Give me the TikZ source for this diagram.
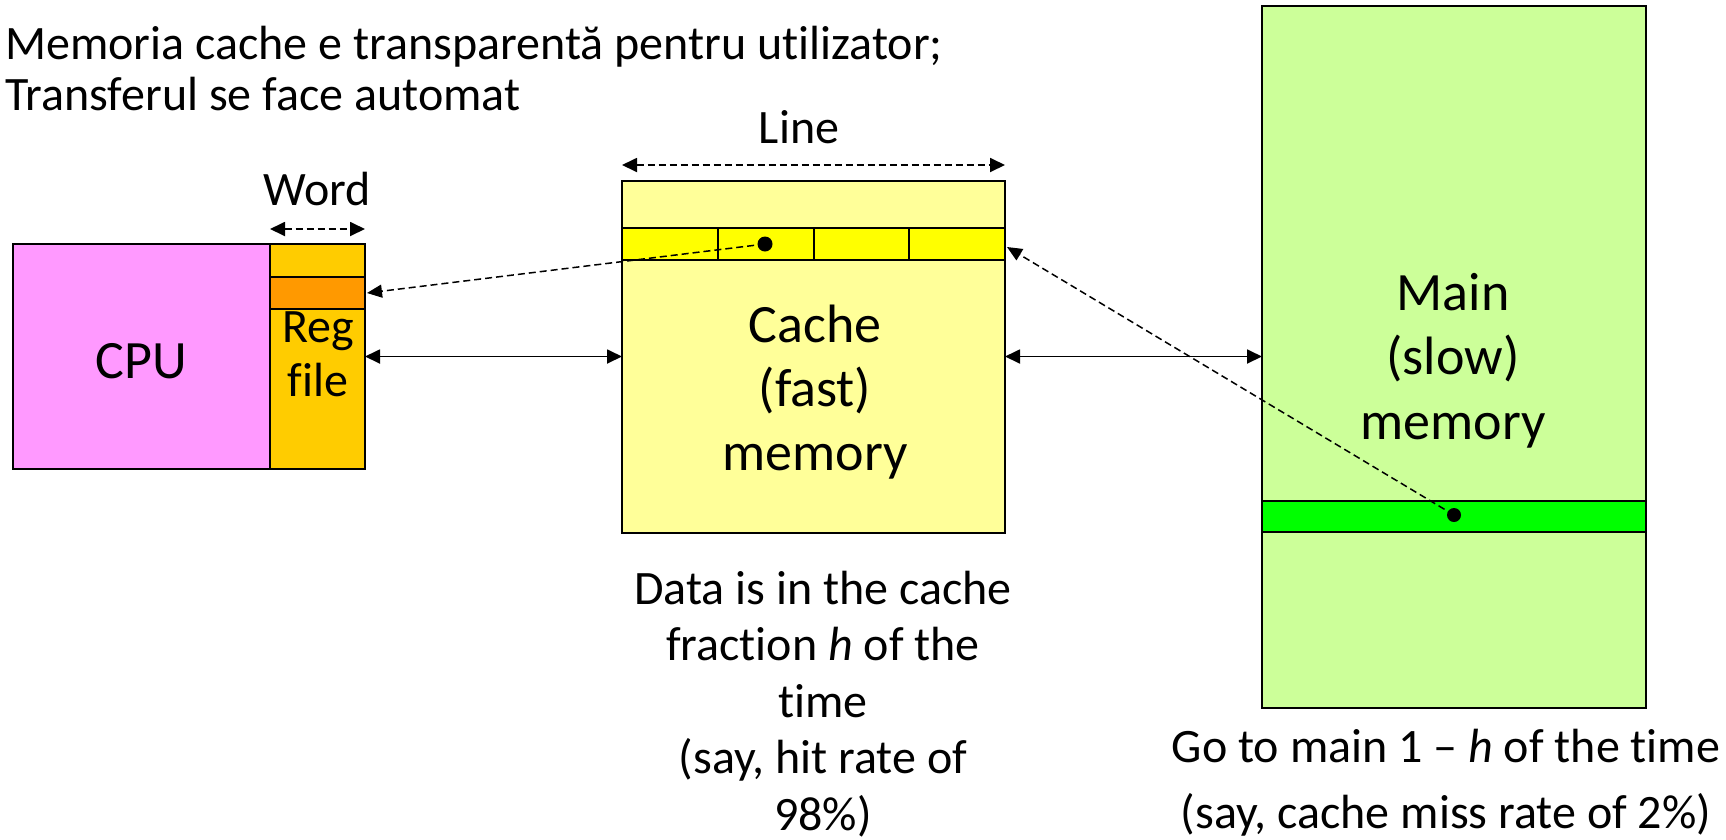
\documentclass[tikz,border=0pt]{standalone}
\usepackage{fontspec}
\setmainfont{Carlito}[Ligatures=NoCommon]
\usetikzlibrary{arrows.meta,calc}
\definecolor{cpupink}{HTML}{FF99FF}
\definecolor{regyel}{HTML}{FFCC00}
\definecolor{regorg}{HTML}{FF9900}
\definecolor{cachey}{HTML}{FFFF99}
\definecolor{cacheline}{HTML}{FFFF00}
\definecolor{mainlg}{HTML}{CCFF99}
\definecolor{mainband}{HTML}{00FF00}
\newcommand\sx{\rule[-0.24em]{0pt}{1.04em}}
\begin{document}
\begin{tikzpicture}[x=1pt,y=-1pt,
  blk/.style={draw=black,line width=2pt,rectangle,inner sep=0pt,outer sep=0pt,anchor=north west},
  lbl/.style={inner sep=0pt,font=\fontsize{48}{56}\selectfont},
  biglbl/.style={inner sep=0pt,align=center,font=\fontsize{54}{64}\selectfont},
  solidarr/.style={line width=1.8pt,{Triangle[length=15pt,width=14pt]}-{Triangle[length=15pt,width=14pt]}},
  dimarr/.style={line width=1.8pt,dash pattern=on 7pt off 4pt,{Triangle[length=15pt,width=14pt]}-{Triangle[length=15pt,width=14pt]}},
  fetcharr/.style={line width=1.5pt,dash pattern=on 7pt off 4pt,-{Triangle[length=15pt,width=13pt]}},
  dotmark/.style={circle,fill=black,inner sep=0pt,minimum size=15pt}
]
\useasboundingbox (0,0) rectangle (1726,839);
% CPU and register file
\node[blk,fill=cpupink,minimum width=257pt,minimum height=225pt] (cpu) at (13,244) {};
\node[blk,fill=regyel,minimum width=95pt,minimum height=33pt] (regtop) at (270,244) {};
\node[blk,fill=regorg,minimum width=95pt,minimum height=32pt] (regsel) at (270,277) {};
\node[blk,fill=regyel,minimum width=95pt,minimum height=160pt] (regbody) at (270,309) {};
\node[biglbl] (cputxt) at (141,361) {CPU};
\node[lbl,align=center,font=\fontsize{48}{54}\selectfont] (regtxt) at (318,356) {\sx Reg\\\sx file};
% Cache
\node[blk,fill=cachey,minimum width=383pt,minimum height=352.5pt] (cache) at (622,180.5) {};
\node[blk,fill=cacheline,minimum width=95.75pt,minimum height=32pt] (cl1) at (622,228) {};
\node[blk,fill=cacheline,minimum width=95.75pt,minimum height=32pt] (cl2) at (717.75,228) {};
\node[blk,fill=cacheline,minimum width=95.75pt,minimum height=32pt] (cl3) at (813.5,228) {};
\node[blk,fill=cacheline,minimum width=95.75pt,minimum height=32pt] (cl4) at (909.25,228) {};
\node[biglbl] (cachetxt) at (815,391) {\sx Cache\\\sx (fast)\\\sx memory};
% Main memory
\node[blk,fill=mainlg,minimum width=384pt,minimum height=702pt] (main) at (1262,5.5) {};
\node[blk,fill=mainband,minimum width=384pt,minimum height=31pt] (band) at (1262,501) {};
\node[biglbl,font=\fontsize{54}{64.5}\selectfont] (maintxt) at (1453,359.5) {\sx Main\\\sx (slow)\\\sx memory};
% dots
\node[dotmark] (cdot) at (765,244) {};
\node[dotmark,minimum size=14pt] (mdot) at (1454,515) {};
% labels
\node[lbl,anchor=west,align=left,font=\fontsize{48}{51}\selectfont] (title) at (5,71.5) {\sx Memoria cache e transparentă pentru utilizator;\\\sx Transferul se face automat};
\node[lbl] (wordtxt) at (317,189) {Word};
\node[lbl] (linetxt) at (799,127) {Line};
\node[lbl,align=center,font=\fontsize{48}{56.5}\selectfont] (hittxt) at (823,704) {\sx Data is in the cache\\\sx fraction \textit{h} of the\\\sx time\\\sx (say, hit rate of\\\sx 98\%)};
\node[lbl,align=center,font=\fontsize{48}{66.5}\selectfont] (misstxt) at (1446,782) {\sx Go to main 1 – \textit{h} of the time\\\sx (say, cache miss rate of 2\%)};
% connectors
\draw[dimarr] ([yshift=15pt]regtop.north west) -- ([yshift=15pt]regtop.north east);
\draw[dimarr] ([yshift=15.5pt]cache.north west) -- ([yshift=15.5pt]cache.north east);
\draw[solidarr] (cpu.center -| regbody.east) -- (cpu.center -| cache.west);
\draw[solidarr] (cpu.center -| cache.east) -- (cpu.center -| main.west);
\draw[fetcharr] (cdot.center) -- ([xshift=2pt]regsel.east);
\draw[fetcharr] (mdot.center) -- ([xshift=2pt,yshift=-3pt]cl4.east);
\end{tikzpicture}
\end{document}
